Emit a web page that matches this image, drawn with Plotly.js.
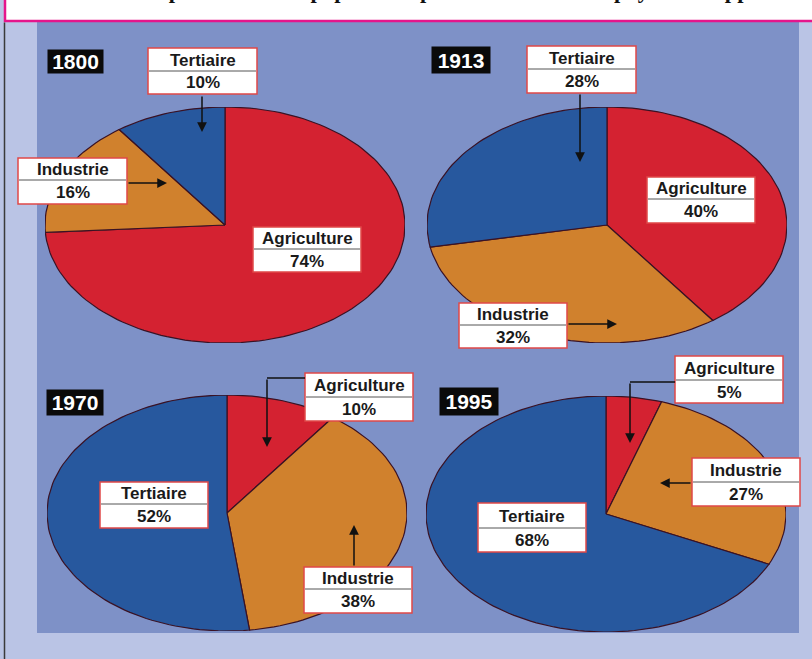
<!DOCTYPE html>
<html>
<head>
<meta charset="utf-8">
<script src="https://cdn.plot.ly/plotly-3.0.1.min.js"></script>
<style>html,body{margin:0;padding:0;background:#bac4e5;}#chart{width:812px;height:659px;}</style>
</head>
<body>
<div id="chart"></div>
<script>
// ---- data ----
const years = ['1800', '1913', '1970', '1995'];
const sectors = ['Agriculture', 'Industrie', 'Tertiaire'];
const agriculture = [74, 40, 10, 5];
const industrie = [16, 32, 38, 27];
const tertiaire = [10, 28, 52, 68];
const chartTitle = 'Évolution de la répartition de la population par secteur dans les pays développés';

// ---- layout / style config ----
const W = 812, H = 659;
const px = x => x / W;
const py = y => 1 - y / H;
const sectorColors = ['#d42231', '#d0812d', '#27589e'];
const pieCenters = [[225, 225], [607, 225], [227, 513], [606, 514]];
const RX = 180, RY = 118;
const yearBoxes = [[48, 50, 103, 73], [432, 47, 490, 73], [47, 390, 103, 415], [440, 388, 498, 415]];
// label boxes: [x0, y0, x1, y1, dividerY] per year, per sector (Agri, Indus, Tert)
const labelBoxes = [
  [[253, 227, 361, 272, 249], [18, 158, 127, 204, 180], [148, 48, 257, 94, 71]],
  [[647, 177, 755, 223, 199], [459, 303, 567, 348, 325], [527, 46, 636, 93, 69]],
  [[305, 373, 413, 421, 397], [304, 567, 412, 613, 589], [100, 482, 208, 528, 504]],
  [[675, 356, 783, 403, 380], [692, 458, 800, 506, 482], [478, 503, 586, 552, 528]]
];
// arrows: [tailX, tailY, tipX, tipY, elbowStartX (optional)]
const arrows = [
  [202, 95, 202, 132], [127, 183, 167, 183],
  [580, 93, 580, 162], [567, 324, 617, 324],
  [267, 378, 267, 447, 305], [354, 567, 354, 525],
  [630, 382, 630, 443, 675], [692, 483, 660, 483]
];

const seriesByYear = years.map((y, i) => [agriculture[i], industrie[i], tertiaire[i]]);

const traces = [];
const layout = {
  width: W, height: H,
  margin: {l: 0, r: 0, t: 0, b: 0},
  paper_bgcolor: '#bac4e5',
  plot_bgcolor: 'rgba(0,0,0,0)',
  showlegend: false,
  shapes: [],
  annotations: []
};

// background panel and frame
layout.shapes.push({type: 'rect', xref: 'paper', yref: 'paper', x0: px(37), x1: px(799), y0: py(633), y1: py(22),
  fillcolor: '#7e91c7', line: {width: 0}, layer: 'below'});
layout.shapes.push({type: 'rect', xref: 'paper', yref: 'paper', x0: px(5), x1: px(830), y0: py(21), y1: py(-10),
  fillcolor: '#ffffff', line: {width: 2.5, color: '#e5158c'}, layer: 'below'});
layout.shapes.push({type: 'line', xref: 'paper', yref: 'paper', x0: px(4.5), x1: px(4.5), y0: py(22.5), y1: py(659),
  line: {width: 1.5, color: '#3a3a3a'}, layer: 'below'});

layout.annotations.push({xref: 'paper', yref: 'paper', x: px(-3), y: py(4), xanchor: 'left', yanchor: 'bottom',
  text: '<b>' + chartTitle + '</b>', showarrow: false, borderpad: 0,
  font: {family: 'Liberation Serif, Times New Roman, serif', size: 22.5, color: '#111'}});

seriesByYear.forEach((vals, i) => {
  const n = i + 1;
  const xa = 'xaxis' + (n === 1 ? '' : n), ya = 'yaxis' + (n === 1 ? '' : n);
  const [cx, cy] = pieCenters[i];
  layout[xa] = {domain: [px(cx - RX), px(cx + RX)], range: [-1, 1], visible: false, fixedrange: true,
    anchor: 'y' + (n === 1 ? '' : n)};
  layout[ya] = {domain: [py(cy + RY), py(cy - RY)], range: [-1, 1], visible: false, fixedrange: true,
    anchor: 'x' + (n === 1 ? '' : n)};
  const total = vals.reduce((a, b) => a + b, 0);
  let cum = 0;
  vals.forEach((v, k) => {
    const a0 = cum / total * 2 * Math.PI;
    cum += v;
    const a1 = cum / total * 2 * Math.PI;
    const xs = [0], ys = [0];
    const steps = Math.max(4, Math.ceil((a1 - a0) / (Math.PI / 90)));
    for (let s = 0; s <= steps; s++) {
      const t = a0 + (a1 - a0) * s / steps;
      xs.push(Math.sin(t)); ys.push(Math.cos(t));
    }
    xs.push(0); ys.push(0);
    traces.push({type: 'scatter', mode: 'lines', x: xs, y: ys, fill: 'toself',
      fillcolor: sectorColors[k], line: {color: '#3a1224', width: 1.2},
      xaxis: 'x' + (n === 1 ? '' : n), yaxis: 'y' + (n === 1 ? '' : n),
      name: sectors[k] + ' ' + years[i], hoverinfo: 'name'});
  });

  // year badge
  const yb = yearBoxes[i];
  layout.annotations.push({xref: 'paper', yref: 'paper', x: px((yb[0] + yb[2]) / 2), y: py((yb[1] + yb[3]) / 2),
    xanchor: 'center', yanchor: 'middle', width: yb[2] - yb[0], height: yb[3] - yb[1], borderpad: 0,
    bgcolor: '#0a0a0a', showarrow: false, text: '<b>' + years[i] + '</b>',
    font: {family: 'Liberation Sans, Arial, sans-serif', size: 21, color: '#ffffff'}});

  // sector label boxes
  labelBoxes[i].forEach((b, k) => {
    const [x0, y0, x1, y1, dv] = b;
    layout.shapes.push({type: 'rect', xref: 'paper', yref: 'paper', x0: px(x0), x1: px(x1), y0: py(y1), y1: py(y0),
      fillcolor: '#ffffff', line: {color: '#e04848', width: 1.5}});
    layout.shapes.push({type: 'line', xref: 'paper', yref: 'paper', x0: px(x0 + 1), x1: px(x1 - 1), y0: py(dv), y1: py(dv),
      line: {color: '#555555', width: 1}});
    const fnt = {family: 'Liberation Sans, Arial, sans-serif', size: 17, color: '#1a1a1a'};
    layout.annotations.push({xref: 'paper', yref: 'paper', x: px((x0 + x1) / 2), y: py((y0 + dv) / 2 + 0.5),
      xanchor: 'center', yanchor: 'middle', showarrow: false, text: '<b>' + sectors[k] + '</b>', font: fnt});
    layout.annotations.push({xref: 'paper', yref: 'paper', x: px((x0 + x1) / 2), y: py((dv + y1) / 2 + 0.5),
      xanchor: 'center', yanchor: 'middle', showarrow: false, text: '<b>' + seriesByYear[i][k] + '%</b>', font: fnt});
  });
});

// arrows
arrows.forEach(a => {
  const [tx, ty, hx, hy, ex] = a;
  if (ex !== undefined) {
    layout.shapes.push({type: 'line', xref: 'paper', yref: 'paper', x0: px(ex), x1: px(tx), y0: py(ty), y1: py(ty),
      line: {color: '#111', width: 1.5}});
  }
  layout.annotations.push({xref: 'paper', yref: 'paper', x: px(hx), y: py(hy), ax: tx - hx, ay: ty - hy,
    axref: 'pixel', ayref: 'pixel', text: '', showarrow: true, arrowhead: 2, arrowsize: 1.3, arrowwidth: 1.5,
    arrowcolor: '#111', standoff: 0, startstandoff: 0});
});

Plotly.newPlot('chart', traces, layout, {displayModeBar: false, staticPlot: true});
</script>
</body>
</html>
